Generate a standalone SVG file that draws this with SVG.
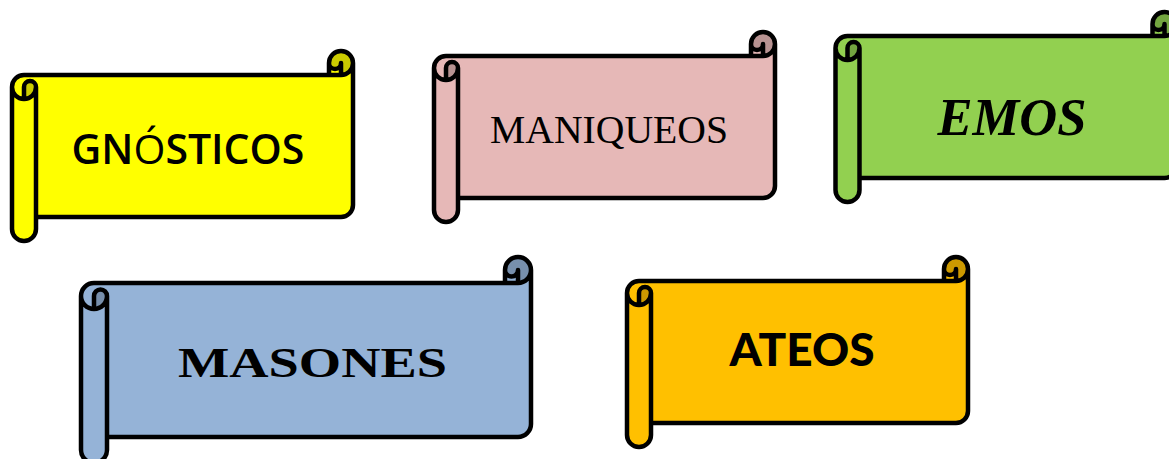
<svg xmlns="http://www.w3.org/2000/svg" xmlns:xlink="http://www.w3.org/1999/xlink" width="1169" height="459" viewBox="0 0 1169 459">
<style>
.dark{fill:#000;fill-opacity:0.2;stroke:none}
.line{fill:none;stroke:#000;stroke-width:4.5;stroke-linejoin:round;stroke-linecap:round}
.lbl{text-anchor:middle;fill:#000}
</style>
<defs>
<path id="sFill" d="M 341 12 A 12 12 0 0 1 329 24 L 329 12 A 6 6 0 0 1 317 12 L 317 24 L 12 24 A 12 12 0 0 0 0 36 L 0 178 A 12 12 0 0 0 24 178 L 24 166 L 329 166 A 12 12 0 0 0 341 154 Z"/>
<path id="sDark" d="M 12 48 A 12 12 0 0 0 24 36 A 6 6 0 0 0 12 36 Z M 329 24 A 12 12 0 1 0 317 12 A 6 6 0 0 0 329 12 Z"/>
<path id="sLine" d="M 0 36 A 12 12 0 0 1 12 24 L 317 24 L 317 12 A 12 12 0 0 1 341 12 L 341 154 A 12 12 0 0 1 329 166 L 24 166 L 24 178 A 12 12 0 0 1 0 178 Z M 317 24 L 329 24 A 12 12 0 0 0 341 12 M 329 24 L 329 12 A 6 6 0 0 1 317 12 M 12 48 L 12 36 A 6 6 0 0 1 24 36 A 12 12 0 0 1 0 36 M 24 36 L 24 166"/>
<path id="bFill" d="M 450 13 A 13 13 0 0 1 437 26 L 437 13 A 6.5 6.5 0 0 1 424 13 L 424 26 L 13 26 A 13 13 0 0 0 0 39 L 0 193 A 13 13 0 0 0 26 193 L 26 180 L 437 180 A 13 13 0 0 0 450 167 Z"/>
<path id="bDark" d="M 13 52 A 13 13 0 0 0 26 39 A 6.5 6.5 0 0 0 13 39 Z M 437 26 A 13 13 0 1 0 424 13 A 6.5 6.5 0 0 0 437 13 Z"/>
<path id="bLine" d="M 0 39 A 13 13 0 0 1 13 26 L 424 26 L 424 13 A 13 13 0 0 1 450 13 L 450 167 A 13 13 0 0 1 437 180 L 26 180 L 26 193 A 13 13 0 0 1 0 193 Z M 424 26 L 437 26 A 13 13 0 0 0 450 13 M 437 26 L 437 13 A 6.5 6.5 0 0 1 424 13 M 13 52 L 13 39 A 6.5 6.5 0 0 1 26 39 A 13 13 0 0 1 0 39 M 26 39 L 26 180"/>
</defs>
<rect width="1169" height="459" fill="#fff"/>
<g id="connectors"/>
<g id="gnosticos">
<g transform="translate(12,51)" fill="#FFFF00">
<use xlink:href="#sFill"/><use xlink:href="#sDark"/><use xlink:href="#sDark" class="dark"/><use xlink:href="#sLine" class="line"/>
</g>
<text class="lbl" x="188" y="164" font-family="'Open Sans', 'Liberation Sans', sans-serif" font-weight="600" font-size="41">GN<tspan font-weight="400">Ó</tspan>STICOS</text>
</g>
<g id="maniqueos">
<g transform="translate(434,32)" fill="#E6B8B7">
<use xlink:href="#sFill"/><use xlink:href="#sDark"/><use xlink:href="#sDark" class="dark"/><use xlink:href="#sLine" class="line"/>
</g>
<text class="lbl" x="609" y="143" font-family="'Liberation Serif', serif" font-size="40" textLength="238" lengthAdjust="spacingAndGlyphs">MANIQUEOS</text>
</g>
<g id="emos">
<g transform="translate(835.5,12)" fill="#92D050">
<use xlink:href="#sFill"/><use xlink:href="#sDark"/><use xlink:href="#sDark" class="dark"/><use xlink:href="#sLine" class="line"/>
</g>
<text class="lbl" x="1012" y="135" font-family="'Liberation Serif', serif" font-weight="bold" font-style="italic" font-size="52" textLength="149" lengthAdjust="spacingAndGlyphs">EMOS</text>
</g>
<g id="masones">
<g transform="translate(81,257)" fill="#95B3D7">
<use xlink:href="#bFill"/><use xlink:href="#bDark"/><use xlink:href="#bDark" class="dark"/><use xlink:href="#bLine" class="line"/>
</g>
<text class="lbl" x="312.5" y="377" font-family="'Liberation Serif', serif" font-weight="bold" font-size="42" textLength="269" lengthAdjust="spacingAndGlyphs">MASONES</text>
</g>
<g id="ateos">
<g transform="translate(627,257)" fill="#FFC000">
<use xlink:href="#sFill"/><use xlink:href="#sDark"/><use xlink:href="#sDark" class="dark"/><use xlink:href="#sLine" class="line"/>
</g>
<text class="lbl" x="802" y="366" font-family="Lato, 'Liberation Sans', sans-serif" font-weight="900" font-size="46" textLength="145" lengthAdjust="spacingAndGlyphs">ATEOS</text>
</g>
</svg>
